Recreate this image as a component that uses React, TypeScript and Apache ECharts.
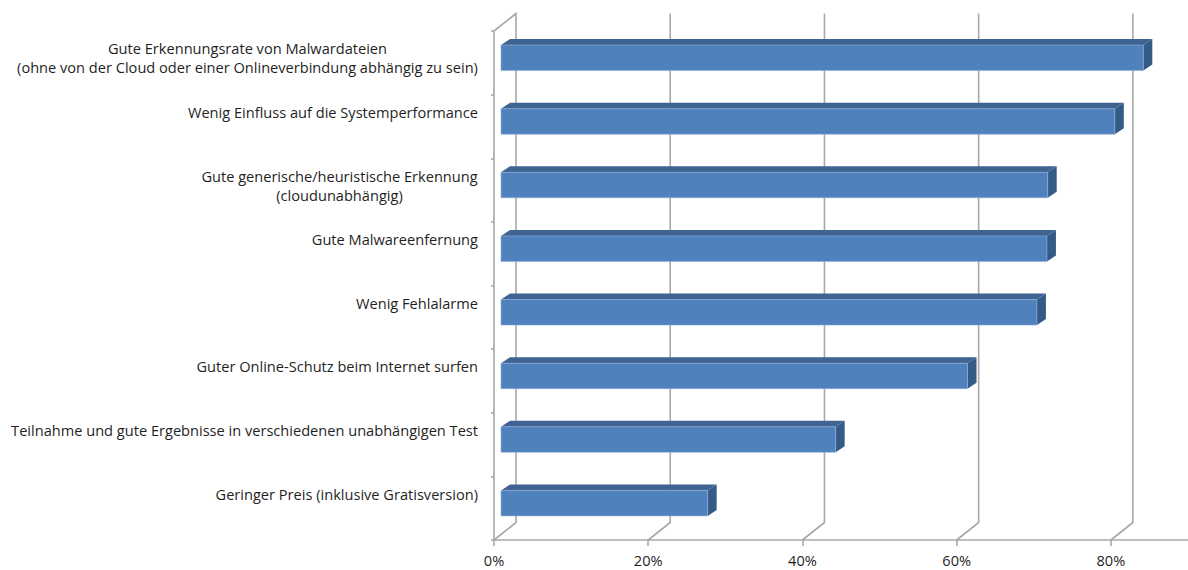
import React, { useEffect, useRef } from "react";
import * as echarts from "echarts";

const categories = [
  "Gute Erkennungsrate von Malwardateien\n(ohne von der Cloud oder einer Onlineverbindung abhängig zu sein)",
  "Wenig Einfluss auf die Systemperformance",
  "Gute generische/heuristische Erkennung\n(cloudunabhängig)",
  "Gute Malwareenfernung",
  "Wenig Fehlalarme",
  "Guter Online-Schutz beim Internet surfen",
  "Teilnahme und gute Ergebnisse in verschiedenen unabhängigen Test",
  "Geringer Preis (inklusive Gratisversion)",
];
const shares = [83.3, 79.6, 70.9, 70.8, 69.5, 60.5, 43.4, 26.8];
const axisTicks = [0, 20, 40, 60, 80];

const FONT = "Open Sans";
const FONT_SIZE = 14.6;
const TEXT = "#1f1f1f";
const LINE = "#a8a8a8";

// Wall depth of the pseudo-3D plot box and of each bar, in pixels.
const WALL_DX = 22;
const WALL_DY = 17.5;
const BAR_DX = 9;
const BAR_DY = 6;
const BAR_INSET = 7;
const BAR_HEIGHT = 25.5;
const BAR_LIFT = 5;

const PLOT = { left: 494, top: 31, width: 695, height: 509 };

const polygon = (points: number[][], fill: string, z2 = 0) => ({
  type: "polygon",
  z2,
  shape: { points },
  style: { fill },
});

// Rear wall lines plus the oblique floor and ceiling connectors.
function renderWall(params: any, api: any) {
  const tick = api.value(0);
  const x = api.coord([tick, 0])[0];
  const { y, height } = params.coordSys;
  const bottom = y + height;
  const points: number[][] = [
    [x, bottom],
    [x + WALL_DX, bottom - WALL_DY],
    [x + WALL_DX, y - WALL_DY],
  ];
  if (tick === 0) points.push([x, y]);
  return {
    type: "polyline",
    shape: { points },
    style: { stroke: LINE, lineWidth: 1.6, fill: "none" },
  };
}

// One prism: front face, lit top face and shaded end face.
function renderBar(_params: any, api: any) {
  const category = api.value(1);
  const [end, centre] = api.coord([api.value(0), category]);
  const start = api.coord([0, category])[0] + BAR_INSET;
  const right = end + BAR_INSET;
  const top = centre - BAR_LIFT - BAR_HEIGHT / 2;
  const bottom = top + BAR_HEIGHT;
  return {
    type: "group",
    children: [
      polygon(
        [
          [start, top],
          [start + BAR_DX, top - BAR_DY],
          [right + BAR_DX, top - BAR_DY],
          [right, top],
        ],
        "#3f6491",
      ),
      polygon(
        [
          [right, top],
          [right + BAR_DX, top - BAR_DY],
          [right + BAR_DX, bottom - BAR_DY],
          [right, bottom],
        ],
        "#345a87",
      ),
      {
        type: "rect",
        shape: { x: start, y: top, width: right - start, height: BAR_HEIGHT },
        style: { fill: "#4f81bd", stroke: "#8fb0da", lineWidth: 0.6 },
      },
    ],
  };
}

// Long labels are centred on their own block, so each gets a box of its width.
const labelFormatter = (value: string) => {
  const lines = value.split("\n");
  if (lines.length === 1) return value;
  const style = lines[1].length > 30 ? "wide" : "mid";
  return lines.map((line) => `{${style}|${line}}`).join("\n");
};

const richLine = (width: number) => ({
  width,
  align: "center" as const,
  fontFamily: FONT,
  fontSize: FONT_SIZE,
  lineHeight: 19,
  color: TEXT,
});

export default function App() {
  const ref = useRef<HTMLDivElement>(null);

  useEffect(() => {
    document.body.style.margin = "0";
    const chart = echarts.init(ref.current!, undefined, { renderer: "svg" });
    chart.setOption({
      animation: false,
      backgroundColor: "#ffffff",
      grid: [
        { ...PLOT },
        // Label grid: first text lines sit above the band centres.
        { ...PLOT, top: PLOT.top - 24 },
      ],
      xAxis: [
        {
          type: "value",
          gridIndex: 0,
          min: 0,
          max: 90,
          interval: 20,
          axisLine: { show: true, lineStyle: { color: LINE, width: 1.6 } },
          axisTick: { show: true, length: 6, lineStyle: { color: LINE, width: 1.6 } },
          splitLine: { show: false },
          axisLabel: {
            formatter: "{value}%",
            showMaxLabel: false,
            margin: 12,
            fontFamily: FONT,
            fontSize: FONT_SIZE,
            color: TEXT,
          },
        },
        { type: "value", gridIndex: 1, min: 0, max: 90, show: false },
      ],
      yAxis: [
        {
          type: "category",
          gridIndex: 0,
          inverse: true,
          data: categories,
          axisLine: { show: true, lineStyle: { color: LINE, width: 1.6 } },
          axisTick: { show: true, length: 3, alignWithLabel: false, lineStyle: { color: LINE, width: 1.6 } },
          axisLabel: { show: false },
          splitLine: { show: false },
        },
        {
          type: "category",
          gridIndex: 1,
          inverse: true,
          data: categories,
          axisLine: { show: false },
          axisTick: { show: false },
          splitLine: { show: false },
          axisLabel: {
            margin: 16,
            align: "right",
            verticalAlign: "top",
            interval: 0,
            fontFamily: FONT,
            fontSize: FONT_SIZE,
            lineHeight: 19,
            color: TEXT,
            formatter: labelFormatter,
            rich: { wide: richLine(461), mid: richLine(277) },
          },
        },
      ],
      series: [
        {
          type: "custom",
          xAxisIndex: 0,
          yAxisIndex: 0,
          clip: false,
          z: 1,
          silent: true,
          data: axisTicks.map((tick) => [tick, 0]),
          encode: { x: 0, y: 1 },
          renderItem: renderWall,
        },
        {
          type: "custom",
          xAxisIndex: 0,
          yAxisIndex: 0,
          clip: false,
          z: 2,
          silent: true,
          data: shares.map((share, index) => [share, index]),
          encode: { x: 0, y: 1 },
          renderItem: renderBar,
        },
        {
          // Keeps the label axis bound to a series.
          type: "custom",
          xAxisIndex: 1,
          yAxisIndex: 1,
          silent: true,
          data: [],
          renderItem: () => ({ type: "group", children: [] }),
        },
      ],
    });
    return () => chart.dispose();
  }, []);

  return <div ref={ref} style={{ width: 1188, height: 570 }} />;
}
